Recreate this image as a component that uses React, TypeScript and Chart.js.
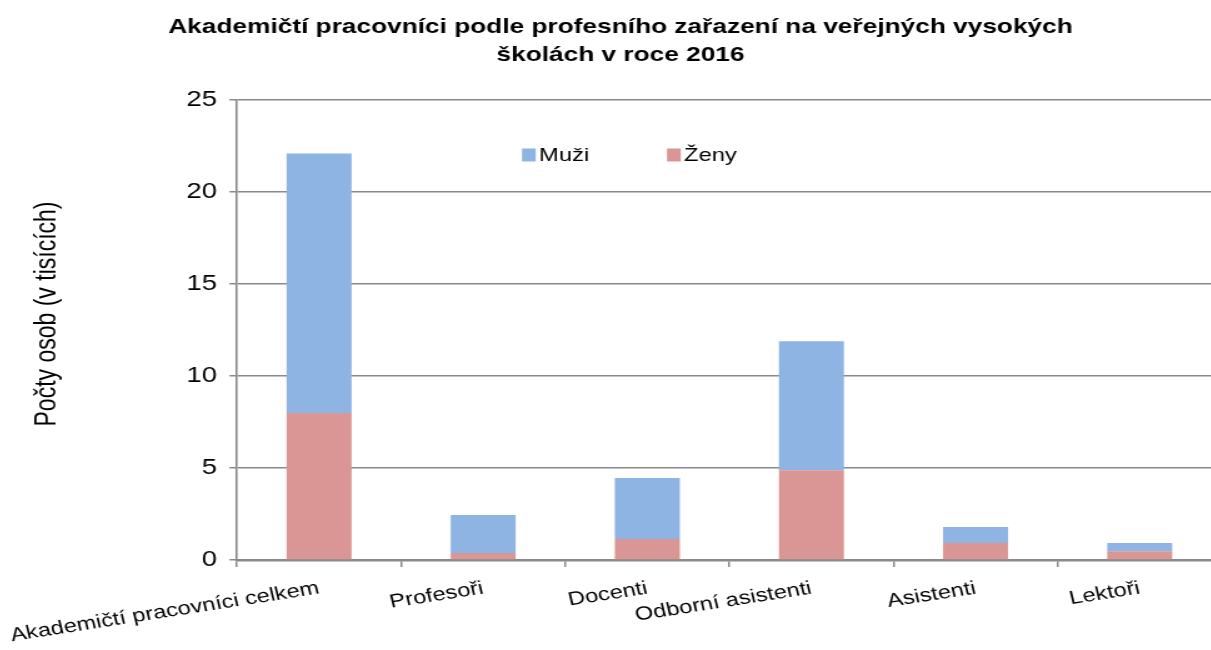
import React, { useEffect, useRef } from 'react';
import { Chart, registerables } from 'chart.js';

Chart.register(...registerables);

const categories = [
  'Akademičtí pracovníci celkem',
  'Profesoři',
  'Docenti',
  'Odborní asistenti',
  'Asistenti',
  'Lektoři',
];
const zenyValues = [7.99, 0.38, 1.14, 4.88, 0.92, 0.48];
const muziValues = [14.1, 2.07, 3.32, 7.01, 0.87, 0.44];
const seriesLabels = ['Ženy', 'Muži'];
const titleLines = [
  'Akademičtí pracovníci podle profesního zařazení na veřejných vysokých',
  'školách v roce 2016',
];
const yAxisTitle = 'Počty osob (v tisících)';
const yMin = 0;
const yMax = 25;
const yStep = 5;

const FONT = '"Liberation Sans", Arial, Helvetica, sans-serif';
const STRETCH = 1.25;
const GRID = '#8a8a8a';

const insideLegend = {
  id: 'insideLegend',
  afterDraw(chart: any) {
    const ctx = chart.ctx;
    const order = [1, 0];
    const xs = [411.2, 527.2];
    ctx.save();
    ctx.font = `19px ${FONT}`;
    ctx.textBaseline = 'middle';
    ctx.textAlign = 'left';
    order.forEach((di, i) => {
      const ds = chart.data.datasets[di];
      ctx.fillStyle = ds.backgroundColor;
      ctx.fillRect(xs[i], 140.5, 11, 13);
      ctx.fillStyle = '#000';
      ctx.fillText(ds.label, xs[i] + 13.6, 147.5);
    });
    ctx.restore();
  },
};

const yTitlePlugin = {
  id: 'yTitle',
  afterDraw(chart: any) {
    const ctx = chart.ctx;
    ctx.save();
    ctx.translate(32, 306);
    ctx.rotate(-Math.PI / 2);
    ctx.font = `23px ${FONT}`;
    ctx.fillStyle = '#000';
    ctx.textAlign = 'center';
    ctx.textBaseline = 'middle';
    ctx.fillText(yAxisTitle, 0, 0);
    ctx.restore();
  },
};

export default function App() {
  const ref = useRef<HTMLCanvasElement | null>(null);

  useEffect(() => {
    if (!ref.current) return;
    const chart = new Chart(ref.current, {
      type: 'bar',
      data: {
        labels: categories,
        datasets: [
          {
            label: seriesLabels[0],
            data: zenyValues,
            backgroundColor: '#d99694',
            borderWidth: 0,
            categoryPercentage: 1,
            barPercentage: 0.396,
          },
          {
            label: seriesLabels[1],
            data: muziValues,
            backgroundColor: '#8eb4e3',
            borderWidth: 0,
            categoryPercentage: 1,
            barPercentage: 0.396,
          },
        ],
      },
      options: {
        responsive: false,
        animation: false,
        devicePixelRatio: 1,
        layout: { padding: { left: 9, right: 0, top: 0, bottom: 0 } },
        plugins: {
          legend: { display: false },
          tooltip: { enabled: false },
          title: {
            display: true,
            text: titleLines,
            color: '#000',
            font: { family: FONT, size: 21, weight: 'bold', lineHeight: 1.333 },
            padding: { top: 5, bottom: 31 },
          },
        },
        scales: {
          x: {
            stacked: true,
            offset: true,
            grid: {
              display: true,
              offset: true,
              drawOnChartArea: false,
              drawTicks: true,
              tickLength: 7,
              color: GRID,
              lineWidth: 1.5,
            },
            border: { display: true, color: GRID, width: 2.5 },
            ticks: {
              autoSkip: false,
              minRotation: 11,
              maxRotation: 11,
              padding: 10,
              color: '#000',
              font: { family: FONT, size: 19 },
            },
            afterFit(scale: any) {
              scale.height = 90;
              scale.paddingLeft = 0;
              scale.paddingRight = 0;
            },
          },
          y: {
            stacked: true,
            min: yMin,
            max: yMax,
            ticks: {
              stepSize: yStep,
              padding: 10,
              color: '#000',
              font: { family: FONT, size: 22 },
            },
            grid: {
              color: GRID,
              lineWidth: 1.5,
              drawTicks: true,
              tickLength: 6,
            },
            border: { display: true, color: GRID, width: 1.6 },
            title: { display: false },
            afterFit(scale: any) {
              scale.width = 174.2;
            },
          },
        },
      },
      plugins: [insideLegend, yTitlePlugin],
    });
    return () => chart.destroy();
  }, []);

  return (
    <div
      style={{
        position: 'fixed',
        left: 0,
        top: 0,
        width: '1211px',
        height: '650px',
        overflow: 'hidden',
        background: '#fff',
      }}
    >
      <div
        style={{
          position: 'absolute',
          left: '8px',
          top: '8px',
          transform: `scaleX(${STRETCH})`,
          transformOrigin: '0 0',
        }}
      >
        <canvas ref={ref} width={971} height={642} style={{ display: 'block' }} />
      </div>
    </div>
  );
}
